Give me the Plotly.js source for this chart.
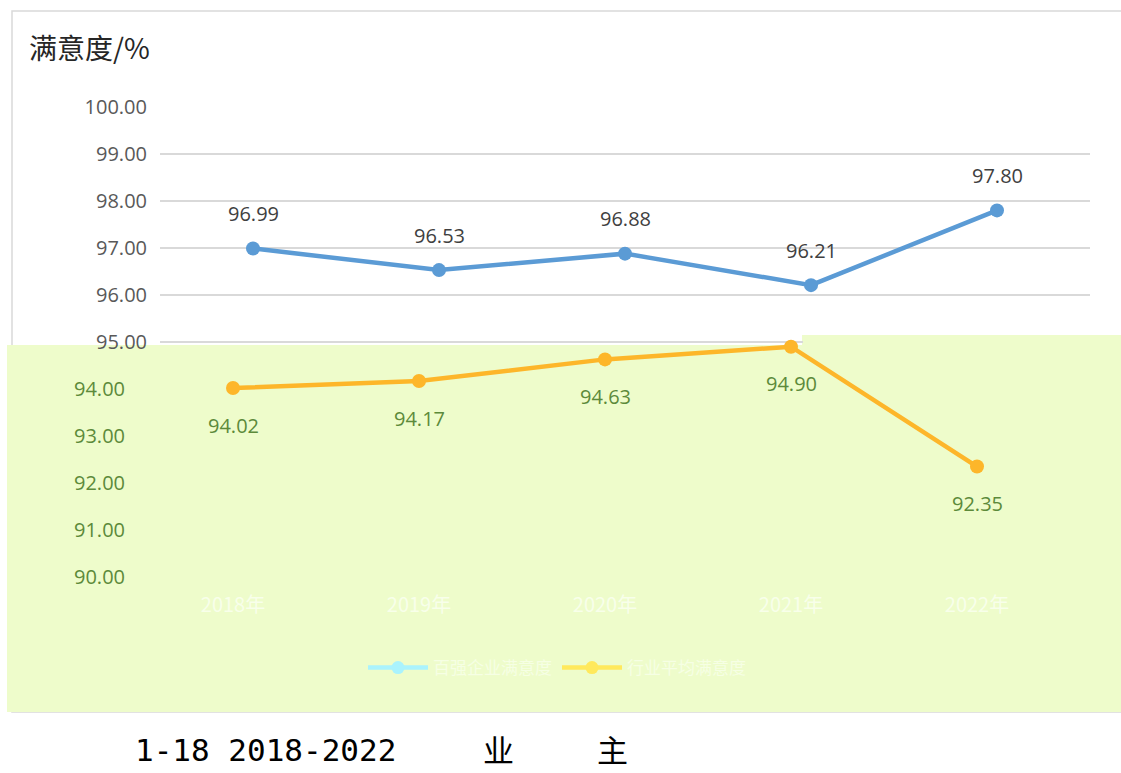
<!DOCTYPE html>
<html>
<head>
<meta charset="utf-8">
<script src="https://cdn.plot.ly/plotly-3.0.1.min.js"></script>
<style>html,body{margin:0;padding:0;background:#fff;}#chart{width:1121px;height:773px;}</style>
</head>
<body>
<div id="chart"></div>
<script>
// ---- data ----
const years = ["2018年", "2019年", "2020年", "2021年", "2022年"];
const seriesAName = "百强企业满意度";
const seriesAValues = [96.99, 96.53, 96.88, 96.21, 97.80];
const seriesBName = "行业平均满意度";
const seriesBValues = [94.02, 94.17, 94.63, 94.90, 92.35];
const upperTicks = [95, 96, 97, 98, 99, 100];
const lowerTicks = [90, 91, 92, 93, 94];
const chartTitle = "满意度/%";

// ---- geometry helpers (plot area 140..1090 x, 107..577 y) ----
const L = 140, R = 1090, T = 107, B = 577;
const fx = px => (px - L) / (R - L);
const fy = py => (B - py) / (B - T);

const fmt = v => v.toFixed(2);
const labelGray = "#404040";
const labelGreen = "#5c8a3a";
const blue = "#5b9bd5";
const orange = "#fdb62a";
const bgGreen = "#eefccb";
const numFont = "Open Sans, Noto Sans, sans-serif";

const traces = [
  {
    x: years, y: seriesAValues, xaxis: "x", yaxis: "y",
    type: "scatter", mode: "lines+markers", name: seriesAName, showlegend: false,
    line: {color: blue, width: 4.5}, marker: {color: blue, size: 14},
    hoverinfo: "skip"
  },
  {
    x: years, y: seriesBValues, xaxis: "x2", yaxis: "y2",
    type: "scatter", mode: "lines+markers", name: seriesBName, showlegend: false,
    line: {color: orange, width: 4.5}, marker: {color: orange, size: 14},
    hoverinfo: "skip"
  },
  // legend proxies (colors as they appear in the legend)
  {
    x: [null], y: [null], xaxis: "x", yaxis: "y", type: "scatter", mode: "lines+markers",
    name: seriesAName, line: {color: "#aaf3fd", width: 4.5}, marker: {color: "#aaf3fd", size: 13}
  },
  {
    x: [null], y: [null], xaxis: "x", yaxis: "y", type: "scatter", mode: "lines+markers",
    name: seriesBName, line: {color: "#ffe95c", width: 4.5}, marker: {color: "#ffe95c", size: 13}
  }
];

const annotations = [];
years.forEach((yr, i) => {
  annotations.push({
    x: yr, y: seriesAValues[i], xref: "x", yref: "y", text: fmt(seriesAValues[i]),
    showarrow: false, yshift: 35, font: {family: numFont, size: 20, color: labelGray}
  });
  annotations.push({
    x: yr, y: seriesBValues[i], xref: "x2", yref: "y2", text: fmt(seriesBValues[i]),
    showarrow: false, yshift: -37, font: {family: numFont, size: 20, color: labelGreen}
  });
});
annotations.push({
  xref: "paper", yref: "paper", x: fx(27), y: fy(47), xanchor: "left", yanchor: "middle",
  text: chartTitle, showarrow: false,
  font: {family: "Noto Sans CJK SC, sans-serif", size: 28, color: "#262626"}
});
annotations.push({
  xref: "paper", yref: "paper", x: fx(134), y: fy(750), xanchor: "left", yanchor: "middle",
  text: "1-18 2018-2022", showarrow: false, borderpad: 0,
  font: {family: "DejaVu Sans Mono, monospace", size: 31, color: "#000"}
});
annotations.push({
  xref: "paper", yref: "paper", x: fx(498), y: fy(749), xanchor: "center", yanchor: "middle",
  text: "业", showarrow: false, borderpad: 0,
  font: {family: "Noto Sans CJK SC, sans-serif", size: 31, color: "#000"}
});
annotations.push({
  xref: "paper", yref: "paper", x: fx(612), y: fy(749), xanchor: "center", yanchor: "middle",
  text: "主", showarrow: false, borderpad: 0,
  font: {family: "Noto Sans CJK SC, sans-serif", size: 31, color: "#000"}
});

const greenPath = `M ${fx(7)} ${fy(345)} L ${fx(802)} ${fy(345)} L ${fx(802)} ${fy(335)} L ${fx(1125)} ${fy(335)} L ${fx(1125)} ${fy(712)} L ${fx(7)} ${fy(712)} Z`;

const layout = {
  width: 1121, height: 773,
  margin: {l: L, r: 1121 - R, t: T, b: 773 - B, pad: 0},
  paper_bgcolor: "#ffffff", plot_bgcolor: "rgba(0,0,0,0)",
  showlegend: true,
  legend: {
    orientation: "h", x: fx(557), y: fy(668), xanchor: "center", yanchor: "middle",
    font: {family: "Noto Sans CJK SC, sans-serif", size: 17, color: "#f6ffe4"},
    bgcolor: "rgba(0,0,0,0)", itemwidth: 60
  },
  xaxis: {
    domain: [fx(160), 1], range: [-0.5, 4.5], type: "category", anchor: "y",
    showticklabels: false, showgrid: false, zeroline: false, showline: false, ticks: ""
  },
  xaxis2: {
    domain: [0, fx(1070)], range: [-0.5, 4.5], type: "category", anchor: "y2",
    showticklabels: true, showgrid: false, zeroline: false, showline: false, ticks: "",
    tickfont: {family: "Noto Sans CJK SC, sans-serif", size: 20, color: "#f8ffea"},
    ticklabelstandoff: 14
  },
  yaxis: {
    range: [90, 100], anchor: "x", tickvals: upperTicks, ticktext: upperTicks.map(fmt),
    showgrid: true, gridcolor: "#d9d9d9", gridwidth: 1.3, zeroline: false, showline: false, ticks: "",
    tickfont: {family: numFont, size: 20, color: "#595959"},
    ticklabelstandoff: 12
  },
  yaxis2: {
    range: [90, 100], anchor: "x2", overlaying: "y", tickvals: lowerTicks, ticktext: lowerTicks.map(fmt),
    showgrid: false, zeroline: false, showline: false, ticks: "",
    tickfont: {family: numFont, size: 20, color: labelGreen},
    ticklabelstandoff: 14
  },
  shapes: [
    {type: "rect", xref: "paper", yref: "paper", x0: fx(12), x1: fx(1125), y0: fy(712), y1: fy(11),
     line: {color: "#d9d9d9", width: 1.5}, fillcolor: "rgba(0,0,0,0)", layer: "below"},
    {type: "path", xref: "paper", yref: "paper", path: greenPath,
     line: {width: 0}, fillcolor: bgGreen, layer: "below"},
    {type: "rect", xref: "paper", yref: "paper", x0: fx(803), x1: fx(1100), y0: fy(345), y1: fy(335),
     line: {width: 0}, fillcolor: bgGreen, layer: "above"}
  ],
  annotations: annotations,
  hovermode: false
};

Plotly.newPlot("chart", traces, layout, {displayModeBar: false, staticPlot: true});
</script>
</body>
</html>
